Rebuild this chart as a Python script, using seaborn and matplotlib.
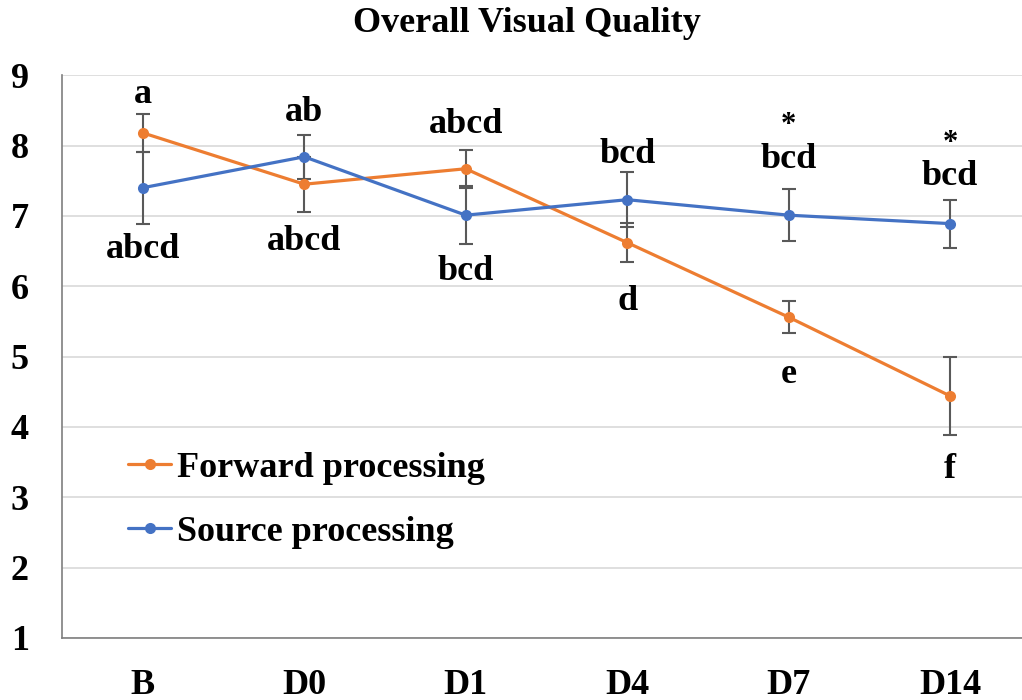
import pandas as pd
import numpy as np
import matplotlib
matplotlib.use('Agg')
import matplotlib.pyplot as plt
import seaborn as sns

# 데이터
days = ['B', 'D0', 'D1', 'D4', 'D7', 'D14']
forward = [8.18, 7.45, 7.67, 6.62, 5.56, 4.44]
forward_err = [0.27, 0.39, 0.27, 0.28, 0.23, 0.55]
source = [7.40, 7.84, 7.01, 7.23, 7.01, 6.89]
source_err = [0.51, 0.31, 0.41, 0.39, 0.37, 0.34]

# 유의성 문자 (위/아래)
letters_top = ['a', 'ab', 'abcd', 'bcd', 'bcd', 'bcd']
letters_top_y = [8.73, 8.47, 8.30, 7.87, 7.80, 7.56]
letters_bottom = ['abcd', 'abcd', 'bcd', 'd', 'e', 'f']
letters_bottom_y = [6.52, 6.64, 6.21, 5.78, 4.75, 3.40]
star_y = [None, None, None, None, 8.28, 8.03]

df = pd.DataFrame({
    'day': days * 2,
    'score': forward + source,
    'group': ['Forward processing'] * 6 + ['Source processing'] * 6,
})

sns.set_style('white')
plt.rcParams['font.family'] = ['Liberation Serif', 'DejaVu Serif']
plt.rcParams['font.weight'] = 'bold'
plt.rcParams['text.color'] = 'black'
plt.rcParams['xtick.color'] = 'black'
plt.rcParams['ytick.color'] = 'black'

orange = '#ED7D31'
blue = '#4472C4'

fig = plt.figure(figsize=(10.22, 7.0), dpi=100)
ax = fig.add_axes([0.0607, 0.0886, 0.948, 0.804])

x = np.arange(len(days))

# 오차막대
ax.errorbar(x, forward, yerr=forward_err, fmt='none', ecolor='#595959',
            elinewidth=1.5, capsize=5, capthick=1.5, zorder=2)
ax.errorbar(x, source, yerr=source_err, fmt='none', ecolor='#595959',
            elinewidth=1.5, capsize=5, capthick=1.5, zorder=2)

sns.lineplot(data=df, x='day', y='score', hue='group',
             palette=[orange, blue], marker='o', markersize=8,
             markeredgewidth=0, linewidth=2.3, ax=ax, zorder=3, sort=False)

# 문자 표시
for i in range(len(days)):
    ax.text(i, letters_top_y[i], letters_top[i], ha='center', va='center',
            fontsize=26, fontweight='bold', color='black')
    ax.text(i, letters_bottom_y[i], letters_bottom[i], ha='center', va='center',
            fontsize=26, fontweight='bold', color='black')
    if star_y[i] is not None:
        ax.text(i, star_y[i], '*', ha='center', va='center',
                fontsize=22, fontweight='bold', color='black')

ax.set_ylim(1, 9)
ax.set_xlim(-0.5, 5.5)
ax.set_yticks(range(1, 10))
ax.yaxis.grid(True, color='#D9D9D9', linewidth=1.2)
ax.set_axisbelow(True)

ax.set_xticks(x)
ax.set_xticklabels(days)
ax.set_xticks(np.arange(-0.5, 6, 1), minor=True)
ax.tick_params(axis='x', which='major', length=0, pad=22, labelsize=26, labelcolor='black')
ax.tick_params(axis='x', which='minor', length=10, color='#7F7F7F', width=1)
ax.tick_params(axis='y', length=10, color='#7F7F7F', width=1, labelsize=26, pad=14,
               labelcolor='black')
for lab in ax.get_xticklabels() + ax.get_yticklabels():
    lab.set_fontweight('bold')

for s in ['top', 'right']:
    ax.spines[s].set_visible(False)
for s in ['left', 'bottom']:
    ax.spines[s].set_color('#7F7F7F')
    ax.spines[s].set_linewidth(1.2)

ax.set_xlabel('')
ax.set_ylabel('')

leg = ax.legend(loc='center left', bbox_to_anchor=(0.068, 0.245), frameon=False,
                handlelength=1.2, handletextpad=0.15,
                labelspacing=0.85, borderpad=0, borderaxespad=0,
                prop={'weight': 'bold', 'size': 26})
for t in leg.get_texts():
    t.set_color('black')

fig.text(0.516, 0.966, 'Overall Visual Quality', ha='center', va='center',
         fontsize=26, fontweight='bold', color='black')

fig.savefig('out.png', dpi=100)
